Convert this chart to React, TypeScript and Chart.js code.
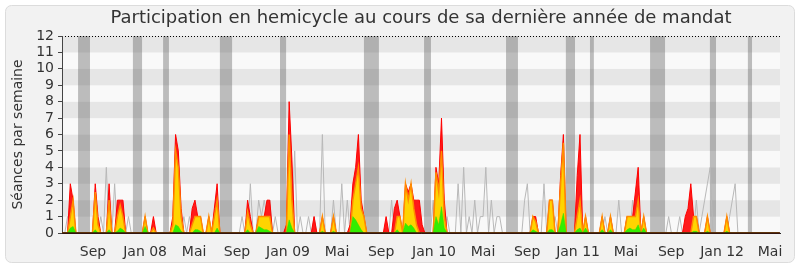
import { useEffect, useRef } from 'react';
import { Chart, registerables } from 'chart.js';

Chart.register(...registerables);

// Weekly values (week index 0 = early June 2007)
const presence = [
  0,0,0,3,2,0,0,0,0,0,
  0,0,3,1,0,0,0,3,0,0,
  2,2,2,0,0,0,0,0,0,0,
  1,0,0,1,0,0,0,0,0,0,
  1,6,5,1.5,0,0,0,1.5,2,1,
  1,0,0,1,0,1.5,3,0,0,0,
  0,0,0,0,0,0,0,2,1,0,
  0,1,1,1,2,2,0,0,0,0,
  0,0.5,8,4.5,0,0,0,0,0,0,
  0,1,0,0,1,0,0,0,1,0,
  0,0,0,0,0.5,3,4,6,2,1,
  0,0,0,0,0,0,0,1,0,0,
  1.5,2,1,0,3,2.5,3,2,2,2,
  0.5,0,0,0,0,4,3,7,2,0,
  0,0,0,0,0,0,0,0,0,0,
  0,0,0,0,0,0,0,0,0,0,
  0,0,0,0,0,0,0,0,0,0,
  1,1,0,0,0,0,2,2,0,0,
  3.5,6,0,0,0,0,3.5,6,0,1,
  0,0,0,0,0,1,0,0,1,0,
  0,0,0,0,1,1,1,2.5,4,0,
  1,0,0,0,0,0,0,0,0,0,
  0,0,0,0,0,1,1.5,3,1,1,
  0,0,0,1,0,0,0,0,0,0,
  1,0,0,0,0,0,0,0,0,0,
  0,0,0,0,0,0,0,0,0,0,
];

const interventions = [
  0,0,0,1,2,0,0,0,0,0,
  0,0,2.5,0.5,0,0,0,2,0,0,
  1,1.7,1,0,0,0,0,0,0,0,
  1,0,0,0.3,0,0,0,0,0,0,
  0.5,5,4,1,0,0,0,0.5,1,1,
  1,0,0,1,0,1,2,0,0,0,
  0,0,0,0,0,0,0,1.3,0.5,0,
  0,1,1,1,1,1,0,0,0,0,
  0,0,6,2,0,0,0,0,0,0,
  0,0,0,0,1,0,0,0,1,0,
  0,0,0,0,0,2,3,4,1.5,1,
  0,0,0,0,0,0,0,0,0,0,
  0,1,1,0,3,2,3,1.5,0.5,0,
  0,0,0,0,0,3.7,2.5,5,1,0,
  0,0,0,0,0,0,0,0,0,0,
  0,0,0,0,0,0,0,0,0,0,
  0,0,0,0,0,0,0,0,0,0,
  1,0.7,0,0,0,0,2,2,0,0,
  3,5.5,0,0,0,0,1,2,0,1,
  0,0,0,0,0,1,0,0,1,0,
  0,0,0,0,1,1,1,1,2,0,
  1,0,0,0,0,0,0,0,0,0,
  0,0,0,0,0,0,0,0,1,1,
  0,0,0,1,0,0,0,0,0,0,
  1,0,0,0,0,0,0,0,0,0,
  0,0,0,0,0,0,0,0,0,0,
];

const questions = [
  0,0,0,0.3,0.4,0,0,0,0,0,
  0,0,0.2,0,0,0,0,0.2,0,0,
  0.1,0.3,0.2,0,0,0,0,0,0,0,
  0.4,0,0,0,0,0,0,0,0,0,
  0,0.5,0.4,0.1,0,0,0,0,0.2,0.2,
  0.1,0,0,0,0,0,0.3,0,0,0,
  0,0,0,0,0,0,0,0.2,0,0,
  0,0.4,0.3,0.2,0.2,0.1,0,0,0,0,
  0,0,0.8,0.3,0,0,0,0,0,0,
  0,0,0,0,0.1,0,0,0,0.1,0,
  0,0,0,0,0,1,0.8,0.5,0.2,0,
  0,0,0,0,0,0,0,0,0,0,
  0,0.2,0,0,0.6,0.4,0.5,0.3,0,0,
  0,0,0,0,0,1,0.5,1.6,0.3,0,
  0,0,0,0,0,0,0,0,0,0,
  0,0,0,0,0,0,0,0,0,0,
  0,0,0,0,0,0,0,0,0,0,
  0.2,0.1,0,0,0,0,0.2,0.2,0,0,
  0.5,1.2,0,0,0,0,0.2,0.3,0,0.3,
  0,0,0,0,0,0.2,0,0,0.2,0,
  0,0,0,0,0.2,0.3,0.2,0.2,0.5,0,
  0.3,0,0,0,0,0,0,0,0,0,
  0,0,0,0,0,0,0,0,0.1,0.1,
  0,0,0,0.1,0,0,0,0,0,0,
  0.1,0,0,0,0,0,0,0,0,0,
  0,0,0,0,0,0,0,0,0,0,
];

const median = [
  0,0,1,1,0,0,0,0,0,0,
  0,0,0,0,1,0,4,0,0,3,
  0,0,0,0,1,0,0,0,0,0,
  0,0,0,0,0,0,0,0,0,0,
  0,0,0,0,1,0,1,0,0,0,
  0,0,0,0,0,0,0,0,0,0,
  0,0,0,0,0,1,0,0,3,0,
  0,2,1,2,1,2,0,1,0,0,
  0,0,0,0,5,0,1,0,0,1,
  0,1,0,0,6,0,0,0,2,0,
  0,3,0,2,0,0,0,0,0,0,
  0,0,0,0,0,0,0,0,0,2,
  0,0,0,0,0,0,0,0,2,0,
  0,0,0,0,2,0,0,0,0,1,
  0,0,0,3,0,4,0,1,0,2,
  0,1,1,4,0,2,0,1,1,0,
  0,0,0,0,0,0,0,2,3,0,
  0,0,0,0,3,0,0,0,1,0,
  0,0,0,0,0,0,0,0,0,0,
  0,0,0,0,0,0,1,0,1,0,
  0,2,0,0,1,0,2,0,0,0,
  0,0,0,0,0,0,0,0,0,1,
  0,0,0,1,0,0,0,0,0,2,
  0,1,2,3,4,0,0,0,0,0,
  0,1,2,3,0,0,0,0,0,0,
  0,0,0,0,0,0,0,0,0,0,
];

// Parliamentary holidays (in weeks)
const vacationStart = [5.8, 25.6, 36.5, 57.0, 78.7, 109.0, 130.7, 160.3, 181.9, 190.6, 212.3, 233.9, 247.6];
const vacationEnd = [10.1, 28.9, 38.6, 61.4, 80.9, 114.4, 133.2, 164.6, 185.2, 192.0, 217.7, 236.1, 249.1];

// Month tick labels and their week positions
const tickWeeks = [11.2, 30.0, 47.7, 63.2, 81.6, 99.3, 115.2, 134.3, 152.0, 167.9, 186.3, 203.6, 219.9, 238.3, 255.6];
const tickLabels = ['Sep', 'Jan 08', 'Mai', 'Sep', 'Jan 09', 'Mai', 'Sep', 'Jan 10', 'Mai', 'Sep', 'Jan 11', 'Mai', 'Sep', 'Jan 12', 'Mai'];

const TITLE = 'Participation en hemicycle au cours de sa dernière année de mandat';
const FONT = 'DejaVu Sans';

const backgroundPlugin = {
  id: 'bgBands',
  beforeDraw(chart: any) {
    const { ctx, chartArea, scales } = chart;
    const W = chart.width, H = chart.height;
    ctx.save();
    ctx.fillStyle = '#ffffff';
    ctx.fillRect(0, 0, W, H);
    ctx.beginPath();
    (ctx as any).roundRect(5.5, 5.5, W - 11, H - 10, 6);
    ctx.fillStyle = '#f2f2f2';
    ctx.fill();
    ctx.strokeStyle = '#dcdcdc';
    ctx.lineWidth = 1;
    ctx.stroke();
    const y = scales.y, x = scales.x;
    for (let i = 0; i < 12; i++) {
      const top = y.getPixelForValue(i + 1);
      const bot = y.getPixelForValue(i);
      ctx.fillStyle = i % 2 === 1 ? '#e6e6e6' : '#f9f9f9';
      ctx.fillRect(chartArea.left, top, chartArea.right - chartArea.left, bot - top);
    }
    ctx.fillStyle = 'rgba(84,84,84,0.37)';
    for (let i = 0; i < vacationStart.length; i++) {
      const a = x.getPixelForValue(vacationStart[i]);
      const b = x.getPixelForValue(vacationEnd[i]);
      ctx.fillRect(a, chartArea.top, b - a, chartArea.bottom - chartArea.top);
    }
    ctx.beginPath();
    ctx.setLineDash([1, 2]);
    ctx.strokeStyle = '#000';
    const ty = Math.round(y.getPixelForValue(12)) + 0.5;
    ctx.moveTo(chartArea.left, ty);
    ctx.lineTo(chartArea.right, ty);
    ctx.stroke();
    ctx.setLineDash([]);
    // title centred over the plot area
    ctx.fillStyle = '#333333';
    ctx.font = `18px "${FONT}"`;
    ctx.textAlign = 'center';
    ctx.textBaseline = 'middle';
    ctx.fillText(TITLE, (chartArea.left + chartArea.right) / 2, 18);
    ctx.restore();
  },
  afterDatasetsDraw(chart: any) {
    const { ctx, chartArea, scales } = chart;
    const y0 = scales.y.getPixelForValue(0);
    ctx.save();
    ctx.strokeStyle = '#3a1208';
    ctx.lineWidth = 1.6;
    ctx.beginPath();
    ctx.moveTo(chartArea.left, y0);
    ctx.lineTo(chartArea.right, y0);
    ctx.stroke();
    ctx.restore();
  },
};

export default function App() {
  const ref = useRef<HTMLCanvasElement>(null);
  useEffect(() => {
    document.body.style.margin = '0';
    const pts = (arr: number[]) => arr.map((v, i) => ({ x: i, y: v }));
    const chart = new Chart(ref.current as HTMLCanvasElement, {
      type: 'line',
      data: {
        datasets: [
          { label: 'Questions', data: pts(questions), borderColor: '#33e000', borderWidth: 0.5, backgroundColor: '#33ee00', fill: 'origin' },
          { label: 'Interventions', data: pts(interventions), borderColor: '#ff8c00', borderWidth: 1.5, backgroundColor: '#ffd400', fill: 'origin' },
          { label: 'Présences', data: pts(presence), borderColor: '#ff0000', borderWidth: 1, backgroundColor: '#ff1a1a', fill: 'origin' },
          { label: 'Médiane', data: pts(median), borderColor: '#b8b8b8', borderWidth: 1, fill: false },
        ] as any,
      },
      plugins: [backgroundPlugin],
      options: {
        responsive: false,
        animation: false,
        events: [],
        layout: { padding: { left: 0, right: 20, top: 36, bottom: 0 } },
        elements: { point: { radius: 0 }, line: { tension: 0 } },
        plugins: {
          legend: { display: false },
          tooltip: { enabled: false },
          title: { display: false },
        },
        scales: {
          x: {
            type: 'linear',
            min: 0,
            max: 259.2,
            grid: { display: false },
            border: { display: true, color: '#222' },
            ticks: {
              autoSkip: false,
              maxRotation: 0,
              padding: 3,
              color: '#333333',
              font: { family: FONT, size: 14 },
              callback: (_v: any, i: number) => tickLabels[i] ?? '',
            },
            afterBuildTicks: (axis: any) => {
              axis.ticks = tickWeeks.map((v) => ({ value: v }));
            },
            afterFit: (axis: any) => {
              axis.height = 34;
            },
          },
          y: {
            min: 0,
            max: 12,
            grid: { drawOnChartArea: false, drawTicks: true, tickLength: 4, color: '#444' },
            border: { display: true, color: '#444' },
            ticks: { stepSize: 1, autoSkip: false, padding: 4, color: '#333333', font: { family: FONT, size: 14 } },
            title: {
              display: true,
              text: 'Séances par semaine',
              color: '#333333',
              font: { family: FONT, size: 14 },
              padding: { top: 10, bottom: 0 },
            },
            afterFit: (axis: any) => {
              axis.width = 62;
            },
          },
        } as any,
      },
    });
    return () => chart.destroy();
  }, []);
  return (
    <div style={{ width: 800, height: 267 }}>
      <canvas ref={ref} width={800} height={267} style={{ display: 'block' }} />
    </div>
  );
}
